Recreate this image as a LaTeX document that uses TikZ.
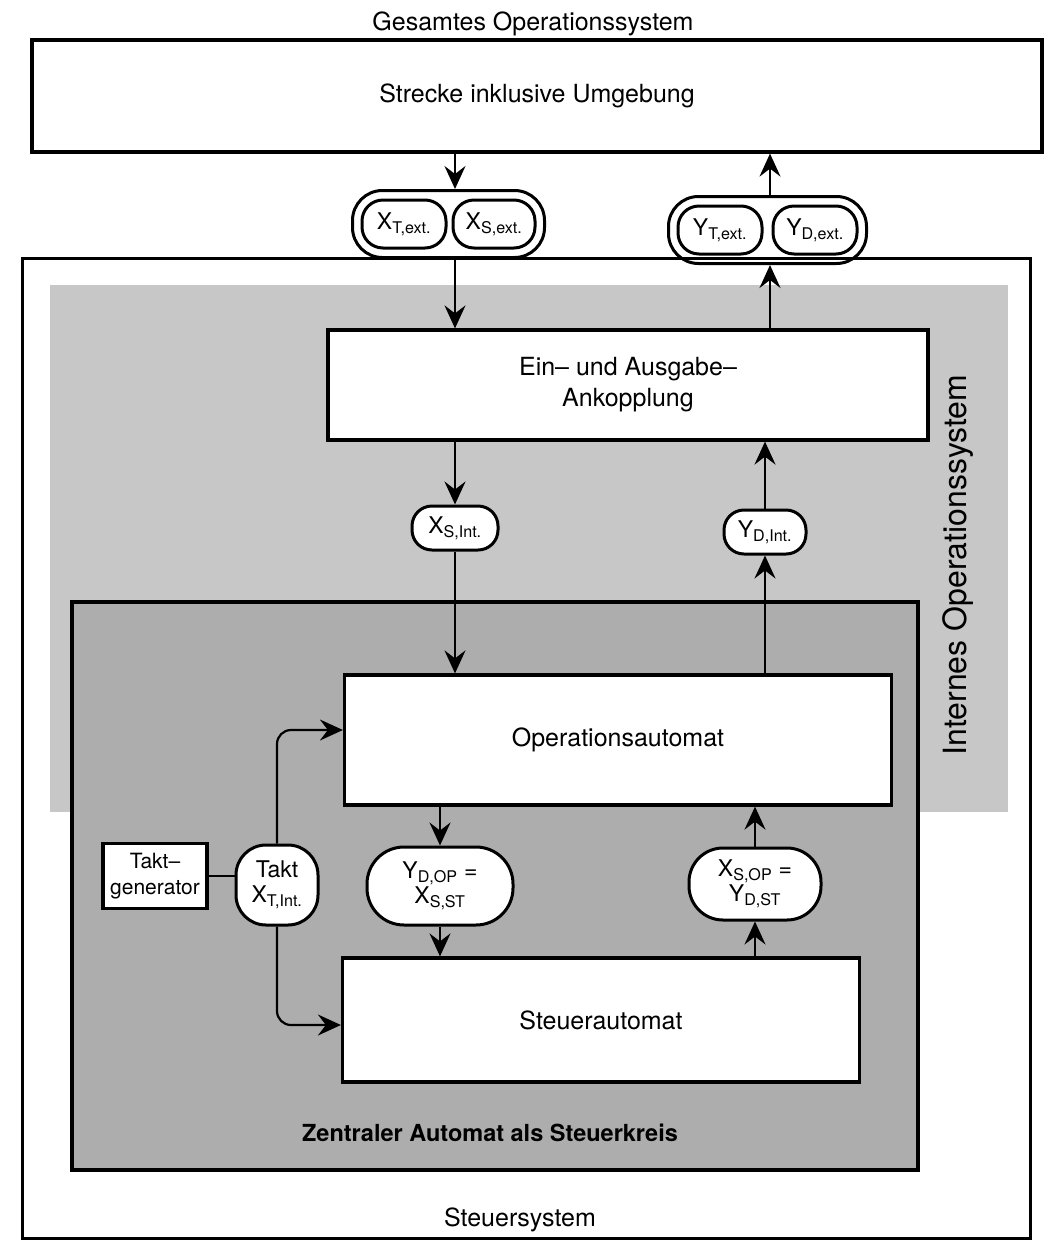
\documentclass[tikz,border=0pt]{standalone}
\usepackage{fontspec}
\setmainfont{TeX Gyre Heros}
\usetikzlibrary{arrows.meta,fit}
\newcommand{\mainsz}{\fontsize{25}{31}\selectfont}
\newcommand{\pillsz}{\fontsize{23}{25}\selectfont}
\begin{document}
\begin{tikzpicture}[x=1pt,y=-1pt,
  box/.style={draw, line width=3.2pt, fill=white, align=center, font=\mainsz, inner sep=0pt},
  pill/.style={draw, line width=3pt, fill=white, align=center, font=\pillsz, inner sep=0pt},
  conn/.style={line width=2.2pt, -{Stealth[length=23pt,width=21pt,inset=8pt]}},
  plain/.style={line width=2.2pt},
  lbl/.style={font=\mainsz, inner sep=0pt}]
\useasboundingbox (0,0) rectangle (1046,1243);
% containers
\draw[line width=3pt, fill=white] (22,258) rectangle (1030,1238);
\fill[black!22] (50,285) rectangle (1008,812);
\draw[line width=3.2pt, fill=black!32] (72,602) rectangle (918,1170);
% labels of containers
\node[lbl] (title) at (533,24) {Gesamtes Operationssystem};
\node[lbl] (steuersys) at (520,1220) {Steuersystem};
\node[font=\fontsize{32}{36}\selectfont, rotate=90, inner sep=0pt] (ios) at (958,565) {Internes Operationssystem};
\node[font=\bfseries\fontsize{23.5}{28}\selectfont, inner sep=0pt] (zent) at (490,1133) {Zentraler Automat als Steuerkreis};
% boxes
\node[box, minimum width=1010pt, minimum height=112pt] (strecke) at (537,96) {Strecke inklusive Umgebung};
\node[box, minimum width=600pt, minimum height=110pt] (ea) at (628,385) {Ein-- und Ausgabe--\\Ankopplung};
\node[box, minimum width=547pt, minimum height=130pt] (ops) at (618,740) {Operationsautomat};
\node[box, minimum width=517pt, minimum height=124pt] (steu) at (601,1020) {Steuerautomat};
\node[box, minimum width=104pt, minimum height=65pt, font=\fontsize{21}{26}\selectfont] (tg) at (155,876) {Takt--\\generator};
% pills
\node[pill, minimum width=84pt, minimum height=48pt, rounded corners=21pt] (xt) at (404,224) {X\textsubscript{T,ext.}};
\node[pill, minimum width=82pt, minimum height=48pt, rounded corners=21pt] (xs) at (494,224) {X\textsubscript{S,ext.}};
\node[draw, line width=3pt, rounded corners=30pt, inner sep=8pt, fit=(xt)(xs)] (xgrp) {};
\node[pill, minimum width=84pt, minimum height=48pt, rounded corners=21pt] (yt) at (720,230) {Y\textsubscript{T,ext.}};
\node[pill, minimum width=84pt, minimum height=48pt, rounded corners=21pt] (yd) at (815,230) {Y\textsubscript{D,ext.}};
\node[draw, line width=3pt, rounded corners=30pt, inner sep=8pt, fit=(yt)(yd)] (ygrp) {};
\node[pill, minimum width=86pt, minimum height=44pt, rounded corners=20pt] (xsint) at (455,528) {X\textsubscript{S,Int.}};
\node[pill, minimum width=82pt, minimum height=44pt, rounded corners=20pt] (ydint) at (765,532) {Y\textsubscript{D,Int.}};
\node[pill, minimum width=82pt, minimum height=80pt, rounded corners=30pt] (takt) at (277,885) {Takt\\X\textsubscript{T,Int.}};
\node[pill, minimum width=146pt, minimum height=78pt, rounded corners=37pt] (ydop) at (440,886) {Y\textsubscript{D,OP} =\\X\textsubscript{S,ST}};
\node[pill, minimum width=132pt, minimum height=72pt, rounded corners=34pt] (xsop) at (755,884) {X\textsubscript{S,OP} =\\Y\textsubscript{D,ST}};
% connectors left chain
\coordinate (s1) at (xsint.north |- strecke.south);
\draw[conn] (s1) -- (s1 |- xgrp.north);
\draw[conn] (s1 |- xgrp.south) -- (s1 |- ea.north);
\draw[conn] (xsint.north |- ea.south) -- (xsint.north);
\draw[conn] (xsint.south) -- (xsint.south |- ops.north);
% right chain
\draw[conn] (ydint.south |- ops.north) -- (ydint.south);
\draw[conn] (ydint.north) -- (ydint.north |- ea.south);
\coordinate (r1) at ([xshift=5pt]ydint.north |- ea.north);
\draw[conn] (r1) -- (r1 |- ygrp.south);
\draw[conn] (r1 |- ygrp.north) -- (r1 |- strecke.south);
% inner loop
\draw[conn] (ydop.north |- ops.south) -- (ydop.north);
\draw[conn] (ydop.south) -- (ydop.south |- steu.north);
\draw[conn] (xsop.south |- steu.north) -- (xsop.south);
\draw[conn] (xsop.north) -- (xsop.north |- ops.south);
% clock
\draw[plain] (tg.east) -- (takt.west |- tg.east);
\draw[conn, rounded corners=14pt] (takt.north) |- ([yshift=10pt]ops.west);
\draw[conn, rounded corners=14pt] (takt.south) |- ([yshift=-5pt]steu.west);
\end{tikzpicture}
\end{document}
